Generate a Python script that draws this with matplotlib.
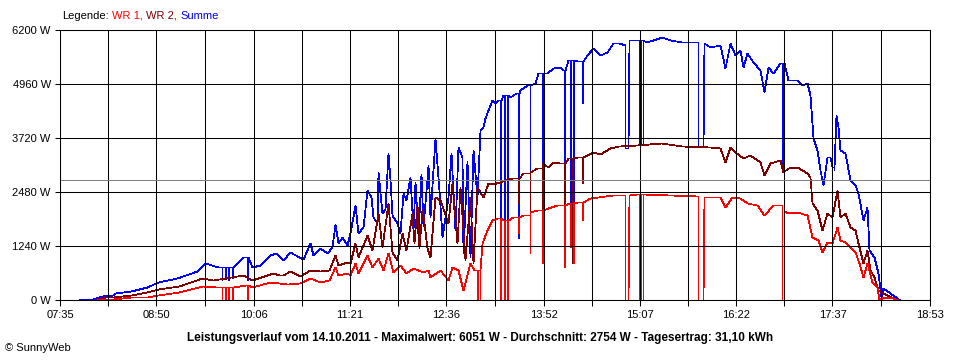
"""SunnyWeb style daily power curve (14.10.2011), WR 1 / WR 2 / Summe."""
import numpy as np
import matplotlib
matplotlib.use("Agg")
import matplotlib.pyplot as plt

plt.rcParams.update({"font.family": ["Liberation Sans", "DejaVu Sans"], "font.size": 8})
RED = "#FF0000"; DARK = "#800000"; BLUE = "#0000FF"; GREY = "#808080"

# time axis in minutes after midnight, power in W
x_labels = ["07:35", "08:50", "10:06", "11:21", "12:36", "13:52", "15:07", "16:22", "17:37", "18:53"]
y_ticks = [0, 1240, 2480, 3720, 4960, 6200]
average_w = 2754

sum_t = [470, 481, 488, 496, 498, 510, 523, 531, 546, 562, 568, 578, 598, 605, 611, 619, 623, 629, 634, 641,
         644, 650, 652, 658, 663, 667, 669, 672, 675, 679, 681, 685, 687, 691, 694, 697, 699, 702, 703, 706,
         708, 711, 712, 714, 718, 720, 722, 725, 728, 730, 732, 734, 736, 738, 740, 741.5, 743, 747, 750, 753,
         757, 760, 763, 765, 768, 769, 772, 774.5, 777, 780, 782, 785, 786, 788.5, 792, 794, 796, 800, 806, 810,
         813.5, 819, 825, 827.5, 834.5, 839, 845, 847, 851, 858, 866, 870, 876, 881, 886, 891, 895, 895.5, 898, 898.5,
         905, 912, 917, 924, 930, 940, 952, 952.5, 956, 956.5, 961.5, 969, 973, 977, 981, 985, 987, 990, 995, 1000.5,
         1004, 1007, 1011, 1016, 1022, 1029, 1033, 1037, 1039.5, 1042, 1045, 1047, 1050, 1053, 1055, 1057, 1060, 1061,
         1063, 1067, 1071, 1074.5, 1077, 1081, 1084, 1085.5, 1089, 1092.5, 1095, 1096, 1102, 1107, 1110]
sum_w = [20, 30, 100, 120, 170, 207, 290, 420, 512, 673, 843, 765, 995, 765, 804, 1033, 1086, 918, 1110, 995,
         934, 1316, 1033, 1186, 1071, 1224, 1745, 1301, 1454, 1263, 1531, 2181, 1531, 1684, 2526, 2372, 1913, 1761, 2946, 1990,
         2100, 3368, 2755, 1950, 1761, 1531, 2450, 2296, 2831, 1600, 2700, 1500, 2900, 1700, 2500, 3100, 1900, 3713, 2526, 1454,
         2372, 3368, 1607, 3520, 3290, 1071, 3200, 995, 3444, 2372, 3904, 3980, 4172, 4363, 4593, 4520, 4593, 4707, 4669, 4745,
         4822, 4937, 4975, 5205, 5205, 5320, 5358, 5281, 5511, 5480, 5626, 5779, 5626, 5702, 5894, 5909, 5856, 3483, 3483, 5970,
         5970, 5932, 5970, 6046, 5970, 5932, 5932, 3520, 3520, 5894, 5817, 5856, 5320, 5894, 5626, 5741, 5358, 5664, 5473, 5281,
         4783, 5358, 5205, 5435, 5052, 5052, 4937, 4975, 4707, 3713, 3444, 2985, 2641, 3291, 3291, 3061, 4248, 3980,
         3444, 3368, 2755, 2641, 2450, 1837, 2143, 1148, 995, 612, 76, 268, 153, 38, 0]
sum_dip_t = [581, 583.5, 586, 589, 601, 798, 801, 803.5, 812, 821, 831, 848, 852.5, 855, 862, 906, 907.5, 909,
             1017.7, 1018.7, 1058]
sum_dip_w = [460, 480, 470, 500, 460, 1454, 1454, 1454, 1416, 1071, 1110, 1454, 1600, 1500, 4516, 3605, 3605, 3605,
             2985, 2985, 2985]

wr2_t = [482, 490, 496, 510, 523, 531, 548, 566, 574, 598, 605, 621, 626, 629, 634, 642, 650, 658, 665, 669,
         672, 679, 681, 685, 687, 694, 698, 703, 706, 711, 714, 718, 721.5, 725, 729, 731, 733, 735, 737, 739,
         741, 743, 747, 751, 757, 760.5, 764, 767, 771, 774.5, 777, 780, 784.6, 788.5, 792, 798, 803, 808, 816, 821,
         827, 831, 835, 839, 845, 851, 858, 866, 870, 876, 884, 891, 905, 923, 940, 961.5, 969, 973, 977, 981,
         987, 993, 1000.5, 1004, 1008, 1016, 1018.4, 1022, 1029, 1037, 1039.5, 1041, 1045, 1049, 1053, 1057, 1060.5, 1063,
         1067, 1071, 1074.5, 1077, 1081, 1084, 1086, 1089, 1092.5, 1096, 1104, 1108]
wr2_w = [0, 60, 76, 115, 190, 245, 321, 498, 459, 574, 459, 627, 574, 574, 673, 551, 689, 673, 689, 1033,
         804, 880, 850, 1301, 995, 1493, 1148, 1990, 1224, 2220, 1100, 918, 1531, 1148, 1990, 1300, 2200, 1200, 2100, 1761,
         1200, 995, 2372, 2296, 1761, 2679, 1301, 2602, 918, 2372, 850, 2602, 2372, 2694, 2664, 2717, 2771, 2794, 2909, 2946,
         3024, 3139, 3062, 3176, 3140, 3253, 3291, 3329, 3406, 3352, 3483, 3536, 3559, 3598, 3536, 3520, 3483, 3176, 3520, 3406,
         3253, 3329, 3176, 2870, 3140, 3215, 2946, 3024, 3062, 2909, 2831, 2220, 2067, 1607, 1990, 1913, 2526, 1913,
         1990, 1684, 1607, 1301, 842, 1148, 689, 536, 230, 153, 38, 0]
wr2_dip_t = [812, 821, 831, 847.8, 854, 862]
wr2_dip_w = [2220, 1071, 1110, 1454, 850, 2679]

wr1_t = [482, 496, 510, 523, 531, 548, 566, 577, 590, 600, 605, 619, 632, 642, 650, 658, 665, 669, 672, 679,
         681, 685, 687, 694, 698, 703, 707, 711, 714.5, 720, 725, 730, 738, 742, 743, 751, 757, 760.5, 765, 769,
         774.5, 778, 784, 788, 792, 795.5, 800, 808, 816, 821, 827, 835, 842, 847, 852, 858, 868, 886, 895, 895.5,
         898, 898.5, 905, 930, 952, 952.5, 956, 956.5, 961.5, 969, 973, 979, 985, 990, 998, 1004, 1011, 1016, 1017.5, 1017.7,
         1019, 1019.3, 1022, 1029, 1037, 1041, 1046, 1049, 1053, 1057, 1060.5, 1063, 1067, 1071, 1074.5, 1078, 1081, 1084,
         1088, 1092, 1093.3, 1096, 1104, 1108]
wr1_w = [0, 23, 62, 76, 115, 184, 321, 306, 291, 344, 291, 421, 367, 383, 498, 421, 459, 765, 574, 612,
         574, 843, 612, 1033, 765, 957, 689, 1071, 650, 804, 612, 727, 650, 689, 536, 689, 459, 765, 700, 230,
         842, 700, 1301, 1607, 1837, 1875, 1837, 1913, 1952, 2028, 2067, 2105, 2181, 2181, 2220, 2258, 2334, 2411, 2411, 0,
         0, 2420, 2434, 2411, 2380, 0, 0, 2357, 2357, 2357, 2143, 2372, 2334, 2220, 2181, 1952, 2181, 2181, 2181, 0,
         0, 2050, 2006, 2028, 1952, 1454, 1378, 1110, 1339, 1301, 1684, 1378, 1339, 1224, 1110, 842, 536, 842,
         421, 306, 0, 76, 38, 0]
wr1_dip_t = [581, 583.5, 586, 589, 600.7, 780, 782, 798, 801, 803.5, 812, 821, 831, 848, 852.5, 855, 862,
             906, 907.5, 909]
wr1_dip_w = [0, 0, 0, 0, 0, 0, 0, 0, 0, 0, 1531, 1071, 842, 765, 1224, 850, 1837, 0, 0, 0]


def with_dips(t, w, dip_t, dip_w):
    # short drops: go down at the dip time and come back to the held level
    t = list(t); w = list(w)
    for td, wd in zip(dip_t, dip_w):
        i = int(np.searchsorted(t, td))
        hold = w[i - 1]
        t[i:i] = [td, td, td + 0.5, td + 0.5]
        w[i:i] = [hold, wd, wd, hold]
    return t, w


def hm(s):
    h, m = s.split(":")
    return int(h) * 60 + int(m)


fig = plt.figure(figsize=(9.6, 3.6), dpi=100)
ax = fig.add_axes([60 / 960, 60 / 360, 870 / 960, 270 / 360])

for (t, w, dt, dw), col in [((sum_t, sum_w, sum_dip_t, sum_dip_w), BLUE),
                            ((wr2_t, wr2_w, wr2_dip_t, wr2_dip_w), DARK),
                            ((wr1_t, wr1_w, wr1_dip_t, wr1_dip_w), RED)]:
    xs, ys = with_dips(t, w, dt, dw)
    ax.plot(xs, ys, color=col, lw=0.55, zorder=2, antialiased=False, snap=True)

ax.axhline(average_w, color=GREY, lw=0.7, zorder=3, antialiased=False)

major = [hm(s) for s in x_labels]
minor = [(a + b) / 2 for a, b in zip(major[:-1], major[1:])]
ax.set_xlim(major[0], major[-1])
ax.set_ylim(y_ticks[0], y_ticks[-1])
ax.set_xticks(major)
ax.set_xticklabels(x_labels)
ax.set_xticks(minor, minor=True)
ax.set_yticks(y_ticks)
ax.set_yticklabels([f"{v} W" for v in y_ticks])
ax.tick_params(axis="x", which="both", length=4.3, width=0.75, pad=3, labelsize=8)
ax.tick_params(axis="y", length=3.6, width=0.75, pad=3, labelsize=8)
ax.grid(True, which="both", color="black", lw=0.75, zorder=4)
ax.set_axisbelow(False)
for sp in ax.spines.values():
    sp.set_linewidth(0.75)
    sp.set_zorder(5)

# coloured legend line at the top
fig.canvas.draw()
renderer = fig.canvas.get_renderer()
x = 62 / 960
for s, c in [("Legende:", "black"), ("WR 1,", RED), ("WR 2,", DARK), ("Summe", BLUE)]:
    txt = fig.text(x, 1 - 16 / 360, s, color=c, fontsize=8, va="center", ha="left")
    x += txt.get_window_extent(renderer).width / fig.bbox.width + 3.5 / 960

fig.text(0.5, 1 - 338 / 360,
         "Leistungsverlauf vom 14.10.2011 - Maximalwert: 6051 W - Durchschnitt: 2754 W - Tagesertrag: 31,10 kWh",
         ha="center", va="center", fontsize=8.5, fontweight="bold")
fig.text(5 / 960, 1 - 348 / 360, "© SunnyWeb", ha="left", va="center", fontsize=8)

fig.savefig("out.png", dpi=100, facecolor="white")
